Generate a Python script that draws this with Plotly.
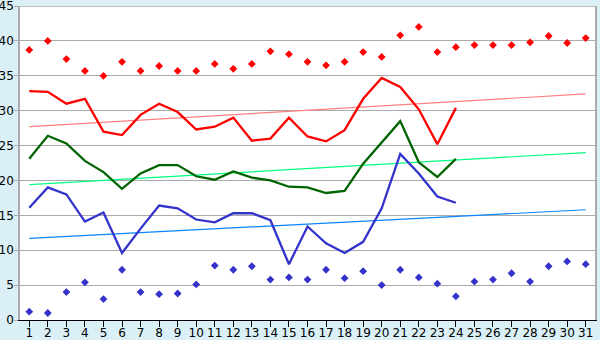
import plotly.graph_objects as go

days = list(range(1, 32))
days_obs = list(range(1, 25))

# Daily mean maximum / mean / minimum temperatures (days 1-24)
mean_max = [32.8, 32.7, 31.0, 31.7, 27.0, 26.5, 29.4, 31.0, 29.8, 27.3,
            27.7, 29.0, 25.7, 26.0, 29.0, 26.3, 25.6, 27.2, 31.7, 34.7,
            33.4, 30.2, 25.2, 30.4]
mean_avg = [23.1, 26.4, 25.3, 22.8, 21.2, 18.8, 21.0, 22.2, 22.2, 20.6,
            20.1, 21.3, 20.4, 20.0, 19.1, 19.0, 18.2, 18.5, 22.4, 25.5,
            28.5, 22.6, 20.5, 23.1]
mean_min = [16.1, 19.0, 18.0, 14.1, 15.4, 9.6, 13.1, 16.4, 16.0, 14.4,
            14.0, 15.3, 15.3, 14.3, 8.0, 13.4, 11.0, 9.6, 11.2, 16.0,
            23.8, 21.0, 17.7, 16.8]

# Record highs and lows for each day of the month
record_high = [38.7, 40.0, 37.4, 35.7, 35.0, 37.0, 35.7, 36.4, 35.7, 35.7,
               36.7, 36.0, 36.7, 38.5, 38.1, 37.0, 36.5, 37.0, 38.4, 37.7,
               40.8, 42.0, 38.4, 39.1, 39.4, 39.4, 39.4, 39.8, 40.7, 39.7,
               40.4]
record_low = [1.2, 1.0, 4.0, 5.4, 3.0, 7.2, 4.0, 3.7, 3.8, 5.1,
              7.8, 7.2, 7.7, 5.8, 6.1, 5.8, 7.2, 6.0, 7.0, 5.0,
              7.2, 6.1, 5.2, 3.4, 5.5, 5.8, 6.7, 5.5, 7.7, 8.4,
              8.0]

# Long-term normal lines (value on day 1 and day 31)
trend_days = [1, 31]
normal_max = [27.7, 32.4]
normal_avg = [19.4, 24.0]
normal_min = [11.7, 15.8]

y_ticks = list(range(0, 50, 5))
y_max = 45

fig = go.Figure()

fig.add_trace(go.Scatter(x=trend_days, y=normal_max, mode="lines",
                         line=dict(color="#FF7F7F", width=1.2)))
fig.add_trace(go.Scatter(x=trend_days, y=normal_avg, mode="lines",
                         line=dict(color="#00FF7F", width=1.2)))
fig.add_trace(go.Scatter(x=trend_days, y=normal_min, mode="lines",
                         line=dict(color="#0A84FF", width=1.2)))

fig.add_trace(go.Scatter(x=days_obs, y=mean_max, mode="lines",
                         line=dict(color="#FF0000", width=2.3)))
fig.add_trace(go.Scatter(x=days_obs, y=mean_avg, mode="lines",
                         line=dict(color="#006400", width=2.3)))
fig.add_trace(go.Scatter(x=days_obs, y=mean_min, mode="lines",
                         line=dict(color="#3333CC", width=2.3)))

fig.add_trace(go.Scatter(x=days, y=record_high, mode="markers",
                         marker=dict(symbol="diamond", size=6, color="#FF0000",
                                     line=dict(width=0))))
fig.add_trace(go.Scatter(x=days, y=record_low, mode="markers",
                         marker=dict(symbol="diamond", size=6, color="#3333CC",
                                     line=dict(width=0))))

# Top border of the plotting area
fig.add_shape(type="line", xref="paper", yref="y", x0=0, x1=1,
              y0=y_max, y1=y_max, line=dict(color="#AAAAAA", width=1.5))

fig.update_layout(
    width=600, height=340,
    margin=dict(l=20, r=5, t=6, b=20),
    paper_bgcolor="#DAF0F6",
    plot_bgcolor="#FFFFFF",
    showlegend=False,
    font=dict(family="DejaVu Sans", size=12, color="#000000"),
    xaxis=dict(
        range=[0.5, 31.5], tickmode="array", tickvals=days,
        ticktext=[str(d) for d in days],
        showgrid=False, zeroline=False, automargin=False,
        showline=True, linecolor="#000000", linewidth=1,
        ticks="outside", ticklen=6, tickcolor="#000000",
        ticklabelstandoff=-4, ticklabeloverflow="allow",
    ),
    yaxis=dict(
        range=[0, y_max], tickmode="array", tickvals=y_ticks,
        showgrid=True, gridcolor="#AAAAAA", gridwidth=1,
        zeroline=False, automargin=False,
        showline=True, linecolor="#AAAAAA", linewidth=1.5, mirror=True,
        ticks="outside", ticklen=4, tickcolor="#AAAAAA",
        ticklabelstandoff=-2, ticklabeloverflow="allow",
    ),
)

fig.write_html("out.html")
